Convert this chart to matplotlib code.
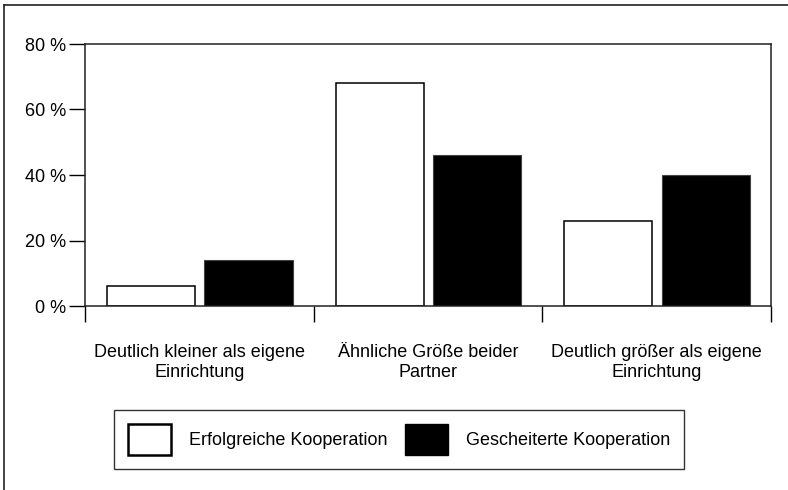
import numpy as np
import matplotlib
matplotlib.use("Agg")
import matplotlib.pyplot as plt
from matplotlib.lines import Line2D
from matplotlib.patches import Patch

plt.rcParams['font.family'] = ['Liberation Sans', 'DejaVu Sans']

# Data
categories = ["Deutlich kleiner als eigene\nEinrichtung",
              "Ähnliche Größe beider\nPartner",
              "Deutlich größer als eigene\nEinrichtung"]
erfolgreich = [6, 68, 26]
gescheitert = [14, 46, 40]
series_names = ["Erfolgreiche Kooperation", "Gescheiterte Kooperation"]
yticks = [0, 20, 40, 60, 80]

W, H = 788, 490
FS = 13
fig = plt.figure(figsize=(W / 100, H / 100), dpi=100)
ax = fig.add_axes([85 / W, 1 - 306 / H, (771 - 85) / W, (306 - 44) / H])

x = np.arange(len(categories))
width = 0.385
ax.bar(x - 0.212, erfolgreich, width, color='white', edgecolor='black', linewidth=1.1)
ax.bar(x + 0.215, gescheitert, width, color='black', edgecolor='#444444', linewidth=0.8)

ax.set_xlim(-0.5, len(categories) - 0.5)
ax.set_ylim(0, 80)

# y axis
ax.set_yticks(yticks)
ax.set_yticklabels([f"{v} %" for v in yticks], fontsize=FS)
ax.tick_params(axis='y', direction='out', length=11.5, width=1, pad=2)

# x axis: labels at centers, tick marks at boundaries
ax.set_xticks(x)
ax.set_xticklabels(categories, fontsize=FS, linespacing=1.25)
ax.set_xticks(np.arange(len(categories) + 1) - 0.5, minor=True)
ax.tick_params(axis='x', which='major', length=0, pad=27)
ax.tick_params(axis='x', which='minor', direction='out', length=11.5, width=1)

for s in ax.spines.values():
    s.set_linewidth(1.1)
    s.set_color('#222222')

# Legend
handles = [Patch(facecolor='white', edgecolor='black', linewidth=1.8),
           Patch(facecolor='black', edgecolor='black')]
leg = fig.legend(handles, series_names, loc='center', bbox_to_anchor=(399 / W, 1 - 439.5 / H),
                 ncol=2, fontsize=FS, frameon=True, fancybox=False,
                 handlelength=2.4, handleheight=2.3, handletextpad=1.0,
                 columnspacing=0.95, borderpad=0.75, borderaxespad=0)
leg.get_frame().set_edgecolor('black')
leg.get_frame().set_linewidth(1.0)

# Outer frame (left and top visible)
fig.add_artist(Line2D([4 / W, 4 / W], [0, 1 - 5 / H], transform=fig.transFigure, color='#222222', linewidth=1.2))
fig.add_artist(Line2D([4 / W, 1], [1 - 5 / H, 1 - 5 / H], transform=fig.transFigure, color='#222222', linewidth=1.2))

fig.savefig("out.png", dpi=100)
